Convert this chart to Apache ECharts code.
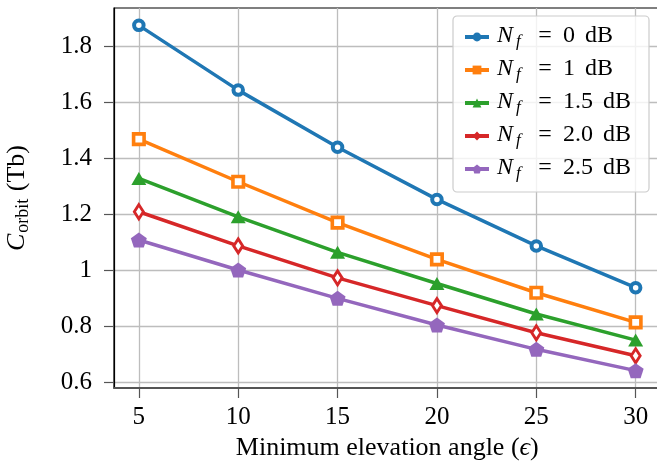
<!DOCTYPE html>
<html><head><meta charset="utf-8">
<script src="https://cdn.jsdelivr.net/npm/echarts@6/dist/echarts.min.js"></script>
<style>html,body{margin:0;padding:0;background:#fff}#c{width:657px;height:462px}</style>
</head><body><div id="c"></div>
<script>
const angles = [5, 10, 15, 20, 25, 30];
const nf0  = [1.875, 1.644, 1.440, 1.254, 1.088, 0.939];
const nf1  = [1.469, 1.317, 1.171, 1.040, 0.921, 0.815];
const nf15 = [1.329, 1.192, 1.065, 0.954, 0.845, 0.752];
const nf20 = [1.210, 1.088, 0.974, 0.875, 0.778, 0.696];
const nf25 = [1.109, 1.002, 0.901, 0.806, 0.719, 0.643];
const nfLabels = ['0', '1', '1.5', '2.0', '2.5'];
const xTicks = [5, 10, 15, 20, 25, 30];
const yTicks = [0.6, 0.8, 1.0, 1.2, 1.4, 1.6, 1.8];

const FONT = "'Liberation Serif','DejaVu Serif',serif";
const colors = ['#1f77b4', '#ff7f0e', '#2ca02c', '#d62728', '#9467bd'];
const seriesData = [nf0, nf1, nf15, nf20, nf25];
const pentagon = 'path://M0,-1 L0.951,-0.309 L0.588,0.809 L-0.588,0.809 L-0.951,-0.309 Z';
const symbols = [
  {symbol: 'circle', size: 9.5, bw: 4, hollow: true},
  {symbol: 'rect', size: 10.5, bw: 3.6, hollow: true},
  {symbol: 'triangle', size: [15, 13], bw: 0, hollow: false},
  {symbol: 'diamond', size: [9, 14], bw: 3, hollow: true},
  {symbol: pentagon, size: [16, 15], bw: 0, hollow: false}
];

const seriesName = i => 'N_f = ' + nfLabels[i] + ' dB';

const series = seriesData.map((vals, i) => ({
  name: seriesName(i),
  type: 'line',
  data: angles.map((a, j) => [a, vals[j]]),
  symbol: symbols[i].symbol,
  symbolSize: symbols[i].size,
  symbolKeepAspect: false,
  showAllSymbol: true,
  lineStyle: {color: colors[i], width: 3.5},
  itemStyle: {
    color: symbols[i].hollow ? '#ffffff' : colors[i],
    borderColor: colors[i],
    borderWidth: symbols[i].bw
  },
  emphasis: {disabled: true},
  z: 2 + i
}));

const legendData = seriesData.map((v, i) => ({
  name: seriesName(i),
  itemStyle: {color: colors[i], borderColor: colors[i], borderWidth: 0},
  lineStyle: {color: colors[i], width: 4}
}));

const chart = echarts.init(document.getElementById('c'), null, {renderer: 'canvas'});
chart.setOption({
  animation: false,
  backgroundColor: '#fff',
  grid: {
    left: 114, top: 8, right: -3.5, bottom: 74,
    containLabel: false, outerBoundsMode: 'none',
    show: true, borderColor: '#000', borderWidth: 1.2, backgroundColor: 'transparent'
  },
  legend: {
    orient: 'vertical',
    left: 453, top: 16,
    padding: [8, 18, 10, 10],
    itemGap: 7,
    itemWidth: 24, itemHeight: 11,
    data: legendData,
    backgroundColor: 'rgba(255,255,255,0.8)',
    borderColor: '#cccccc', borderWidth: 1.2, borderRadius: 4,
    formatter: name => {
      const v = name.replace('N_f = ', '').replace(' dB', '');
      return '{n|N}{f|f}{eq|=}{v|' + v + '}{u|dB}';
    },
    textStyle: {
      fontFamily: FONT, color: '#000',
      rich: {
        n: {fontFamily: FONT, fontStyle: 'italic', fontSize: 24, lineHeight: 26, width: 19, padding: [0, 0, 0, 3], verticalAlign: 'top', color: '#000'},
        f: {fontFamily: FONT, fontStyle: 'italic', fontSize: 17, lineHeight: 17, width: 11, padding: [9, 0, 0, 0], verticalAlign: 'top', color: '#000'},
        eq: {fontFamily: FONT, fontSize: 24, lineHeight: 26, width: 36, align: 'center', verticalAlign: 'top', color: '#000'},
        v: {fontFamily: FONT, fontSize: 24, lineHeight: 26, padding: [0, 10, 0, 0], verticalAlign: 'top', color: '#000'},
        u: {fontFamily: FONT, fontSize: 24, lineHeight: 26, verticalAlign: 'top', color: '#000'}
      }
    }
  },
  xAxis: {
    type: 'value',
    min: 3.75, max: 31.25,
    name: '{t|Minimum elevation angle (}{e|ϵ}{t|)}',
    nameLocation: 'middle', nameGap: 44,
    nameTextStyle: {
      rich: {
        t: {fontFamily: FONT, fontSize: 26, color: '#000'},
        e: {fontFamily: FONT, fontSize: 26, fontStyle: 'italic', color: '#000'}
      }
    },
    axisLine: {show: true, onZero: false, lineStyle: {color: '#555', width: 2}},
    axisTick: {show: true, length: 10, customValues: xTicks, lineStyle: {color: '#555', width: 1.2}},
    axisLabel: {customValues: xTicks, margin: 17, fontFamily: FONT, fontSize: 25, color: '#000'},
    splitLine: {show: true, lineStyle: {color: '#bdbdbd', width: 1.3}}
  },
  yAxis: {
    type: 'value',
    min: 0.581, max: 1.937,
    name: '{c|C}{o|orbit}{t| (Tb)}',
    nameLocation: 'middle', nameGap: 84,
    nameTextStyle: {
      rich: {
        c: {fontFamily: FONT, fontStyle: 'italic', fontSize: 26, lineHeight: 26, verticalAlign: 'top', color: '#000'},
        o: {fontFamily: FONT, fontSize: 18, lineHeight: 18, padding: [10, 1, 0, 1], verticalAlign: 'top', color: '#000'},
        t: {fontFamily: FONT, fontSize: 26, lineHeight: 26, verticalAlign: 'top', color: '#000'}
      }
    },
    axisLine: {show: true, lineStyle: {color: '#000', width: 1.2}},
    axisTick: {show: true, length: 10, customValues: yTicks, lineStyle: {color: '#555', width: 1.2}},
    axisLabel: {
      customValues: yTicks, margin: 22, fontFamily: FONT, fontSize: 25, color: '#000',
      formatter: v => (Math.abs(v - 1) < 1e-9 ? '1' : v.toFixed(1))
    },
    splitLine: {show: true, lineStyle: {color: '#bdbdbd', width: 1.3}}
  },
  series: series
});
</script>
</body></html>
